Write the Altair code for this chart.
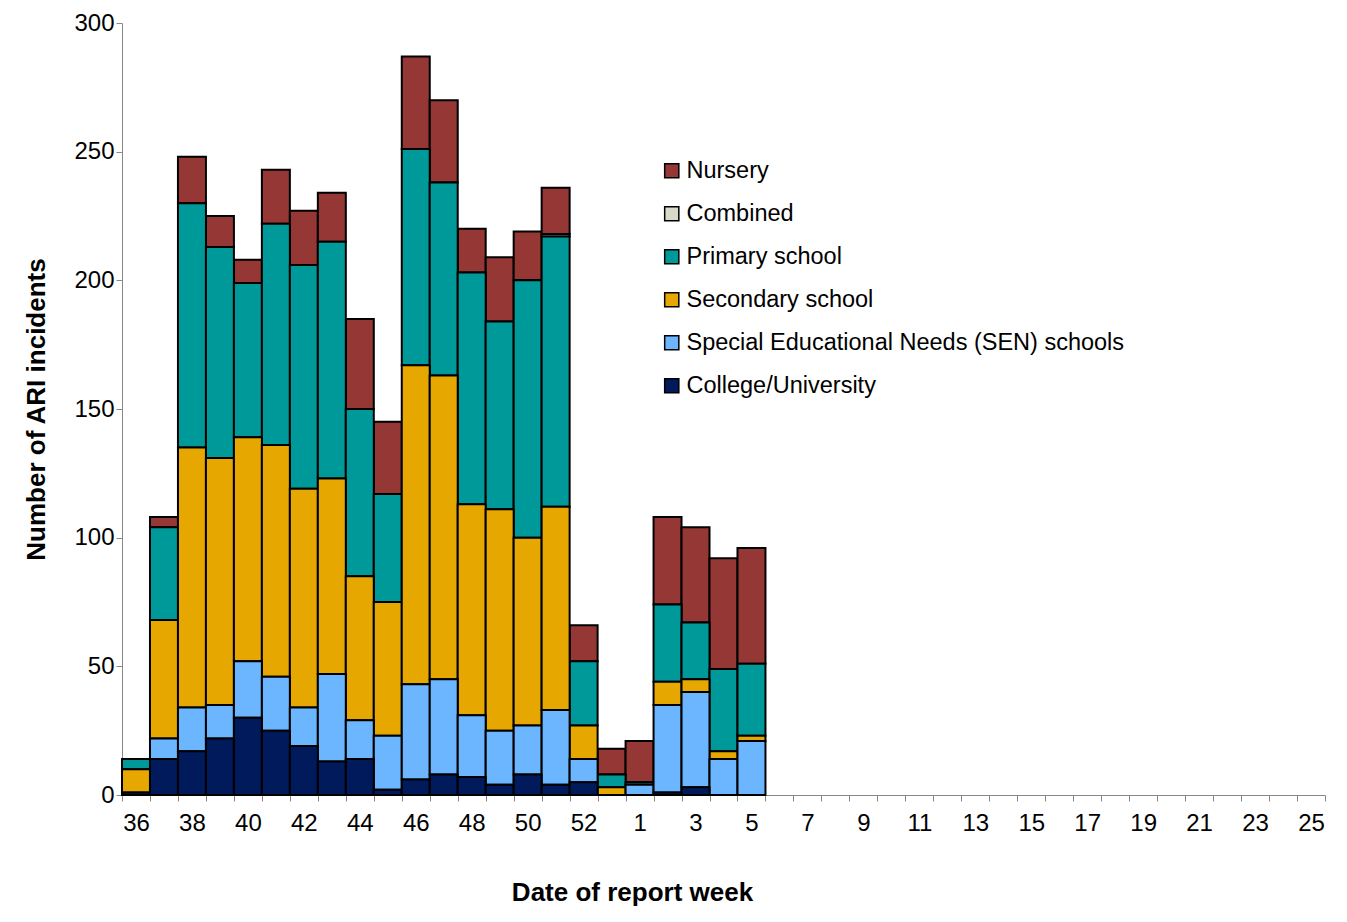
import altair as alt
import pandas as pd

weeks = [str(w) for w in range(36, 54)] + [str(w) for w in range(1, 26)]
data_weeks = weeks[:23]
college = [1,14,17,22,30,25,19,13,14,2,6,8,7,4,8,4,5,0,0,1,3,0,0]
sen = [0,8,17,13,22,21,15,34,15,21,37,37,24,21,19,29,9,0,4,34,37,14,21]
secondary = [9,46,101,96,87,90,85,76,56,52,124,118,82,86,73,79,13,3,0,9,5,3,2]
primary = [4,36,95,82,60,86,87,92,65,42,84,75,90,73,100,105,25,5,1,30,22,32,28]
combined = [0]*15 + [1] + [0]*7
nursery = [0,4,18,12,9,21,21,19,35,28,36,32,17,25,19,18,14,10,16,34,37,43,45]

cats = ["Nursery", "Combined", "Primary school", "Secondary school",
        "Special Educational Needs (SEN) schools", "College/University"]
colors = ["#953735", "#D9D9C9", "#009999", "#E6A800", "#6CB5FF", "#001A5C"]
series = [nursery, combined, primary, secondary, sen, college]

rows = []
for ci, (c, vals) in enumerate(zip(cats, series)):
    for w, v in zip(data_weeks, vals):
        if v > 0:
            rows.append({"week": w, "cat": c, "value": v, "ord": 5 - ci})
df = pd.DataFrame(rows)

shown = [w for i, w in enumerate(weeks) if i % 2 == 0]
label_expr = "indexof([" + ",".join("'%s'" % s for s in shown) + "], datum.value) >= 0 ? datum.value : ''"

chart = alt.Chart(df).mark_bar(stroke="black", strokeWidth=2).encode(
    x=alt.X("week:N", sort=weeks, scale=alt.Scale(domain=weeks, paddingInner=0, paddingOuter=0),
            axis=alt.Axis(title="Date of report week", labelAngle=0, labelExpr=label_expr,
                          tickBand="extent", labelFontSize=24, titleFontSize=26,
                          titlePadding=44, labelPadding=10, domainColor="#888", tickColor="#888",
                          tickSize=6, labelColor="black", titleFontWeight="bold",
                          titleX=510, titleAlign="center")),
    y=alt.Y("value:Q", stack="zero", scale=alt.Scale(domain=[0, 300]),
            axis=alt.Axis(title="Number of ARI incidents", values=[0,50,100,150,200,250,300],
                          grid=False, labelFontSize=24, titleFontSize=26, titlePadding=24,
                          domainColor="#888", tickColor="#888", tickSize=6,
                          labelColor="black", titleFontWeight="bold")),
    color=alt.Color("cat:N", scale=alt.Scale(domain=cats, range=colors),
                    legend=alt.Legend(title=None, orient="none", legendX=538, legendY=136,
                                      symbolType="square", symbolSize=200, symbolStrokeColor="black",
                                      symbolStrokeWidth=1.5, labelFontSize=23.5, rowPadding=18,
                                      labelOffset=3, labelLimit=0)),
    order=alt.Order("ord:Q"),
).properties(width=1203, height=772, padding={"left": 114, "top": 15, "right": 10, "bottom": 120},
             autosize=alt.AutoSizeParams(type="none")
).configure(font="Liberation Sans").configure_view(stroke=None)

chart.save("out.html", embed_options={"renderer": "svg", "actions": False})
